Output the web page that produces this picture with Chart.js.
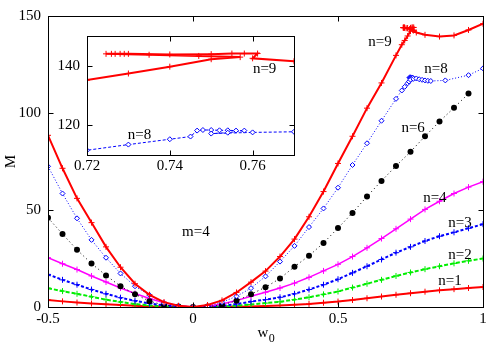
<!DOCTYPE html>
<html>
<head>
<meta charset="utf-8">
<script src="https://cdn.jsdelivr.net/npm/chart.js@4"></script>
<style>
  html, body { margin: 0; padding: 0; background: #fff; }
  #wrap { position: relative; width: 500px; height: 350px; }
  #mainChart { position: absolute; left: 0; top: 0; }
  #insetChart { position: absolute; left: 45px; top: 20px; }
</style>
</head>
<body>
<div id="wrap">
  <canvas id="mainChart" width="500" height="350"></canvas>
  <canvas id="insetChart" width="255" height="160"></canvas>
</div>
<script>
// ---- data ----
// shared w0 grid for n=1..4 and n=6
const wGrid = [-0.5, -0.45, -0.4, -0.35, -0.3, -0.25, -0.2, -0.15, -0.1, -0.05, 0,
  0.05, 0.1, 0.15, 0.2, 0.25, 0.3, 0.35, 0.4, 0.45, 0.5,
  0.55, 0.6, 0.65, 0.7, 0.75, 0.8, 0.85, 0.9, 0.95, 1];

const mN1 = [3.6, 2.9, 2.3, 1.8, 1.4, 1.0, 0.6, 0.3, 0.15, 0.05, 0,
  0.05, 0.1, 0.15, 0.3, 0.5, 0.8, 1.2, 1.6, 2.2, 2.8,
  3.6, 4.5, 5.4, 6.3, 7.1, 7.9, 8.6, 9.2, 9.8, 10.3];
const mN2 = [9.7, 8.2, 6.8, 5.3, 3.8, 2.6, 1.5, 0.8, 0.3, 0.1, 0,
  0.1, 0.3, 0.7, 1.3, 2.0, 2.7, 3.8, 5.0, 6.5, 8.0,
  10, 12, 14, 16, 17.8, 19.5, 21, 22.5, 23.8, 25];
const mN3 = [16.8, 14, 11.5, 9, 6.8, 4.8, 3.2, 1.8, 0.8, 0.2, 0,
  0.2, 0.6, 1.5, 2.8, 3.8, 5, 6.8, 9, 11.5, 14.3,
  17.6, 21, 24.5, 28, 31, 34, 36.5, 38.5, 40.6, 42.7];
const mN4 = [25.4, 22.3, 19.3, 16, 12.9, 9.8, 7, 4.4, 2.2, 0.6, 0,
  0.4, 1.5, 3.3, 5.5, 7.6, 9.8, 12.3, 15.3, 18.6, 22,
  26, 30.5, 35.3, 40.3, 45.3, 50.3, 54.5, 58.5, 61.8, 64.6];
const mN6 = [46, 37.6, 29.5, 22.4, 16.3, 10.7, 6.6, 3, 1, 0.2, 0,
  0.2, 1, 3.2, 6.6, 10.2, 14.7, 20.8, 26.4, 33, 40.7,
  48.5, 57, 65, 72.7, 80, 88, 95.6, 102.7, 110, null];

const wN8 = [-0.5, -0.45, -0.4, -0.35, -0.3, -0.25, -0.2, -0.15, -0.1, -0.05, 0,
  0.05, 0.1, 0.15, 0.2, 0.25, 0.3, 0.35, 0.4, 0.45, 0.5,
  0.55, 0.6, 0.65, 0.7, 0.72, 0.73, 0.74, 0.745, 0.7466, 0.748, 0.75, 0.752,
  0.754, 0.756, 0.758, 0.754, 0.75, 0.76, 0.77, 0.78, 0.79, 0.8, 0.81, 0.82,
  0.87, 0.95, 1];
const mN8 = [72.5, 58.5, 45.7, 34.6, 25.4, 17.3, 10.7, 6.1, 2.0, 0.4, 0,
  0.4, 2.5, 5.5, 9.7, 15.8, 23.4, 31.5, 41.2, 50.8, 61.5,
  73.2, 84.4, 96, 107.3, 111.6, 113.5, 115.3, 116.2, 118.2, 118.4, 118.4, 118.3,
  118.3, 118.2, 118.2, 117.5, 117.2, 117.6, 117.8, 117.4, 117.1, 116.8, 116.6, 116.5,
  116.8, 119.5, 123];

const wN9 = [-0.5, -0.45, -0.4, -0.35, -0.3, -0.25, -0.2, -0.15, -0.1, -0.05, 0,
  0.05, 0.1, 0.15, 0.2, 0.25, 0.3, 0.35, 0.4, 0.45, 0.5,
  0.55, 0.6, 0.65, 0.7, 0.72, 0.73, 0.74, 0.75, 0.757,
  0.747, 0.735, 0.7246, 0.7259, 0.7268, 0.728, 0.729, 0.73, 0.74, 0.75, 0.755, 0.758, 0.7612,
  0.76, 0.77, 0.8, 0.85, 0.9, 0.95, 1];
const mN9 = [88.5, 71.5, 56, 43.5, 31, 20.5, 12, 6.3, 2.5, 0.6, 0,
  1, 3.4, 7.5, 12.8, 18.5, 26, 35, 46.5, 59.5, 74,
  88, 102.5, 115.5, 129.7, 135.2, 137.4, 139.7, 142.2, 142.9,
  143.3, 143.7, 144, 144, 144, 144, 144, 144, 143.8, 143.9, 144.1, 144.1, 144.1,
  142.5, 141.5, 140.3, 139.4, 140, 142.8, 146];

// tick values
const mainTicksW = [-0.5, 0, 0.5, 1];
const mainTicksM = [0, 50, 100, 150];
const insetTicksW = [0.72, 0.74, 0.76];
const insetTicksM = [120, 140];

// text labels, in data coordinates
const mainLabels = [
  {text: 'n=9', w: 0.645, m: 136.8},
  {text: 'n=8', w: 0.838, m: 122.5},
  {text: 'n=6', w: 0.759, m: 92},
  {text: 'n=4', w: 0.834, m: 56.4},
  {text: 'n=3', w: 0.921, m: 43.2},
  {text: 'n=2', w: 0.921, m: 27},
  {text: 'n=1', w: 0.886, m: 13.2},
  {text: 'm=4', w: 0.010, m: 38.6}
];
const insetLabels = [
  {text: 'n=9', w: 0.7629, m: 139.0},
  {text: 'n=8', w: 0.7327, m: 116.8}
];

const FONT = '"Liberation Serif", "Times New Roman", serif';

const toPoints = (ws, ms) => ws.map((w, i) => ({x: w, y: ms[i]}));

const crossSet = (label, ws, ms, color, width, dash) => ({
  label: label,
  data: toPoints(ws, ms),
  showLine: true,
  borderColor: color,
  borderWidth: width,
  borderDash: dash,
  pointStyle: 'cross',
  pointRadius: 3,
  pointBorderColor: color,
  pointBorderWidth: 1,
  fill: false
});

const n8Set = (dash) => ({
  label: 'n=8',
  data: toPoints(wN8, mN8),
  showLine: true,
  borderColor: '#0000ff',
  borderWidth: 1,
  borderDash: dash,
  pointStyle: 'rectRot',
  pointRadius: 2.5,
  pointBackgroundColor: '#ffffff',
  pointBorderColor: '#0000ff',
  pointBorderWidth: 1,
  fill: false
});

// frame + inward ticks on all four sides
const frameTicks = {
  id: 'frameTicks',
  afterDraw(chart, args, opts) {
    const ctx = chart.ctx, a = chart.chartArea;
    const x = chart.scales.x, y = chart.scales.y;
    const len = opts.len || 5;
    ctx.save();
    ctx.strokeStyle = '#000';
    ctx.lineWidth = 1;
    ctx.setLineDash([]);
    const L = Math.round(a.left) + 0.5, R = Math.round(a.right) + 0.5;
    const T = Math.round(a.top) + 0.5, B = Math.round(a.bottom) + 0.5;
    ctx.strokeRect(L, T, R - L, B - T);
    ctx.beginPath();
    x.ticks.forEach(t => {
      const px = Math.round(x.getPixelForValue(t.value)) + 0.5;
      ctx.moveTo(px, B); ctx.lineTo(px, B - len);
      ctx.moveTo(px, T); ctx.lineTo(px, T + len);
    });
    y.ticks.forEach(t => {
      const py = Math.round(y.getPixelForValue(t.value)) + 0.5;
      ctx.moveTo(L, py); ctx.lineTo(L + len, py);
      ctx.moveTo(R, py); ctx.lineTo(R - len, py);
    });
    ctx.stroke();

    // curve labels
    ctx.fillStyle = '#000';
    ctx.font = '15px ' + FONT;
    ctx.textAlign = 'center';
    ctx.textBaseline = 'middle';
    (opts.labels || []).forEach(l => {
      ctx.fillText(l.text, x.getPixelForValue(l.w), y.getPixelForValue(l.m));
    });

    // axis titles (main chart only)
    if (opts.titles) {
      const cx = (a.left + a.right) / 2;
      ctx.textAlign = 'left';
      ctx.textBaseline = 'alphabetic';
      ctx.font = '15px ' + FONT;
      const ww = ctx.measureText('w').width;
      ctx.fillText('w', cx - 8, 337);
      ctx.font = '12px ' + FONT;
      ctx.fillText('0', cx - 8 + ww + 0.5, 342);

      ctx.save();
      ctx.translate(11, (a.top + a.bottom) / 2);
      ctx.rotate(-Math.PI / 2);
      ctx.textAlign = 'center';
      ctx.textBaseline = 'middle';
      ctx.font = '15px ' + FONT;
      ctx.fillText('M', 0, 0);
      ctx.restore();
    }
    ctx.restore();
  }
};

const axis = (min, max, tickVals, size, pad, isY) => ({
  type: 'linear',
  min: min,
  max: max,
  grid: {display: false, drawTicks: false},
  border: {display: false},
  ticks: {
    color: '#000',
    font: {family: FONT, size: 15},
    padding: pad,
    maxRotation: 0,
    autoSkip: false,
    callback: v => String(v)
  },
  afterBuildTicks: s => { s.ticks = tickVals.map(v => ({value: v})); },
  afterFit: s => { if (isY) s.width = size; else s.height = size; }
});

new Chart(document.getElementById('mainChart'), {
  type: 'scatter',
  data: {
    datasets: [
      crossSet('n=9', wN9, mN9, '#ff0000', 2, []),
      n8Set([1, 2]),
      {
        label: 'n=6',
        data: toPoints(wGrid, mN6),
        showLine: true,
        borderColor: '#000000',
        borderWidth: 1,
        borderDash: [1, 3],
        pointStyle: 'circle',
        pointRadius: 3,
        pointBackgroundColor: '#000000',
        pointBorderColor: '#000000',
        pointBorderWidth: 0,
        fill: false
      },
      crossSet('n=4', wGrid, mN4, '#ff00ff', 1.5, []),
      crossSet('n=3', wGrid, mN3, '#0000ff', 2, [3, 2]),
      crossSet('n=2', wGrid, mN2, '#00ee00', 2, [4, 2]),
      crossSet('n=1', wGrid, mN1, '#ff0000', 2, [])
    ]
  },
  options: {
    responsive: false,
    animation: false,
    events: [],
    layout: {padding: {top: 12, right: 17, left: 0, bottom: 0}},
    scales: {
      x: axis(-0.5, 1, mainTicksW, 43, 3, false),
      y: axis(0, 150, mainTicksM, 48, 7, true)
    },
    plugins: {
      legend: {display: false},
      tooltip: {enabled: false},
      frameTicks: {len: 5, labels: mainLabels, titles: true}
    }
  },
  plugins: [frameTicks]
});

new Chart(document.getElementById('insetChart'), {
  type: 'scatter',
  data: {
    datasets: [
      crossSet('n=9', wN9, mN9, '#ff0000', 2, []),
      n8Set([3, 2])
    ]
  },
  options: {
    responsive: false,
    animation: false,
    events: [],
    layout: {padding: {top: 9, right: 6, left: 0, bottom: 0}},
    scales: {
      x: axis(0.72, 0.77, insetTicksW, 25, 2, false),
      y: axis(110, 150, insetTicksM, 42, 7, true)
    },
    plugins: {
      legend: {display: false},
      tooltip: {enabled: false},
      frameTicks: {len: 5, labels: insetLabels, titles: false}
    }
  },
  plugins: [frameTicks]
});
</script>
</body>
</html>
